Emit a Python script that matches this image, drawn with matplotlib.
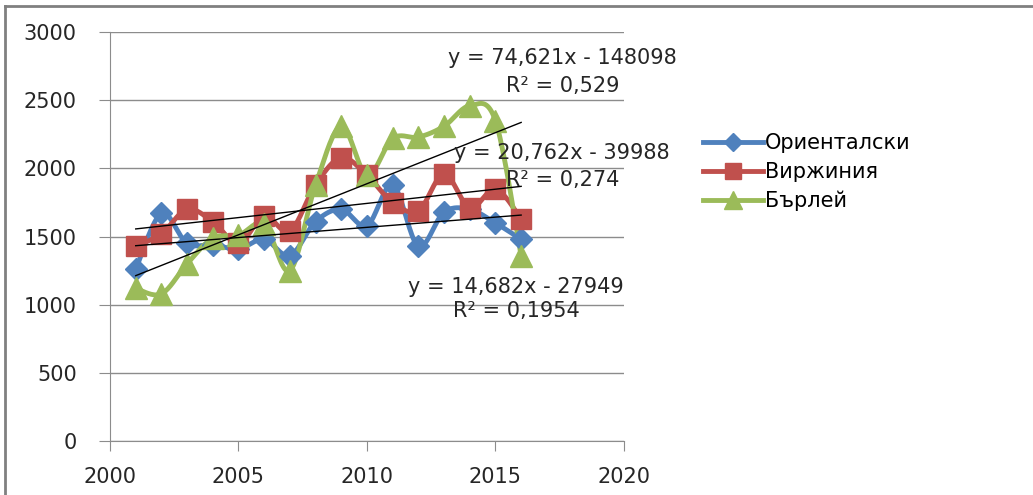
import numpy as np
import matplotlib.pyplot as plt
from matplotlib.lines import Line2D

# data
years = [2001, 2002, 2003, 2004, 2005, 2006, 2007, 2008,
         2009, 2010, 2011, 2012, 2013, 2014, 2015, 2016]
orientalski = [1260, 1670, 1450, 1440, 1410, 1480, 1360, 1610,
               1700, 1580, 1880, 1430, 1680, 1700, 1600, 1480]
virginia = [1430, 1520, 1700, 1610, 1450, 1650, 1540, 1880,
            2080, 1950, 1750, 1690, 1960, 1710, 1850, 1630]
burley = [1120, 1080, 1300, 1490, 1510, 1590, 1250, 1880,
          2310, 1950, 2220, 2230, 2310, 2460, 2350, 1360]
names = ["Ориенталски", "Виржиния", "Бърлей"]
trend_labels = [("y = 14,682x - 27949", "R² = 0,1954"),
                ("y = 20,762x - 39988", "R² = 0,274"),
                ("y = 74,621x - 148098", "R² = 0,529")]

colors = ['#4F81BD', '#C0504D', '#9BBB59']
markers = ['D', 's', '^']
msizes = [11.5, 15, 16]

plt.rcParams['font.family'] = ['DejaVu Sans']


def smooth(x, y, n=20):
    # Excel style smoothed line: bezier with catmull-rom control points
    x = np.asarray(x, float)
    y = np.asarray(y, float)
    pts = np.column_stack([x, y])
    out = []
    for i in range(len(pts) - 1):
        p0 = pts[max(i - 1, 0)]
        p1 = pts[i]
        p2 = pts[i + 1]
        p3 = pts[min(i + 2, len(pts) - 1)]
        c1 = p1 + (p2 - p0) / 6.0
        c2 = p2 - (p3 - p1) / 6.0
        t = np.linspace(0, 1, n, endpoint=(i == len(pts) - 2))[:, None]
        seg = ((1 - t) ** 3) * p1 + 3 * ((1 - t) ** 2) * t * c1 \
            + 3 * (1 - t) * t ** 2 * c2 + t ** 3 * p2
        out.append(seg)
    out = np.vstack(out)
    return out[:, 0], out[:, 1]


fig = plt.figure(figsize=(10.33, 4.95), dpi=100)
ax = fig.add_axes([0.1065, 0.109, 0.4975, 0.826])

series = [orientalski, virginia, burley]
for vals, c, m, ms in zip(series, colors, markers, msizes):
    sx, sy = smooth(years, vals)
    ax.plot(sx, sy, color=c, lw=3.5, zorder=3)
    ax.plot(years, vals, ls='none', marker=m, ms=ms, color=c,
            markeredgecolor=c, zorder=4)

# linear trendlines
for vals in series:
    k, b = np.polyfit(years, vals, 1)
    xs = np.array([years[0], years[-1]])
    ax.plot(xs, k * xs + b, color='black', lw=1, zorder=5)

# trendline equations
lbl_pos = [(2015.8, 1130, 954), (2017.6, 2113, 1915), (2017.6, 2810, 2604)]
for (eq, r2), (xc, y1, y2) in zip(trend_labels, lbl_pos):
    ax.text(xc, y1, eq, ha='center', va='center', fontsize=15,
            color='#262626', zorder=6)
    ax.text(xc, y2, r2, ha='center', va='center', fontsize=15,
            color='#262626', zorder=6)

ax.set_xlim(2000, 2020)
ax.set_ylim(0, 3000)
ax.set_xticks([2000, 2005, 2010, 2015, 2020])
ax.set_yticks([0, 500, 1000, 1500, 2000, 2500, 3000])
ax.yaxis.grid(True, color='#8c8c8c', lw=1)
ax.set_axisbelow(True)
for s in ['top', 'right']:
    ax.spines[s].set_visible(False)
for s in ['left', 'bottom']:
    ax.spines[s].set_color('#8c8c8c')
ax.tick_params(axis='y', length=8, color='#8c8c8c', labelsize=15, pad=16,
               labelcolor='#262626')
ax.tick_params(axis='x', length=7, color='#8c8c8c', labelsize=15, pad=12,
               labelcolor='#262626')

handles = [Line2D([], [], color=c, lw=3.5, marker=m, ms=ms * 0.8,
                  markeredgecolor=c)
           for c, m, ms in zip(colors, markers, msizes)]
fig.legend(handles, names, loc='center left', bbox_to_anchor=(0.672, 0.652),
           frameon=False, fontsize=15, handlelength=2.9, handletextpad=0.1,
           labelspacing=0.42, borderaxespad=0)

# outer frame lines (top and left only)
fig.add_artist(Line2D([5 / 1033, 1], [1 - 6 / 495, 1 - 6 / 495],
                      transform=fig.transFigure, color='#808080', lw=2))
fig.add_artist(Line2D([5 / 1033, 5 / 1033], [0, 1 - 6 / 495],
                      transform=fig.transFigure, color='#808080', lw=2))

fig.savefig('out.png', dpi=100)
